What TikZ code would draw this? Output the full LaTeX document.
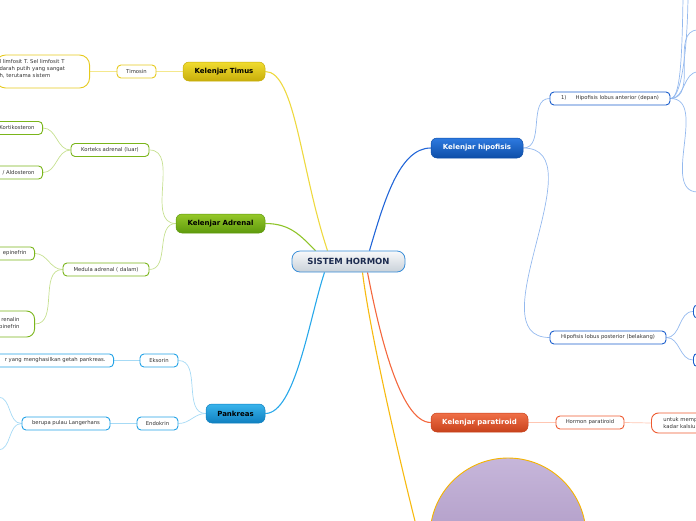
\documentclass[tikz,border=0pt]{standalone}
\usepackage{fontspec}
\setmainfont{DejaVu Sans}
\usetikzlibrary{calc,backgrounds}

\definecolor{txt}{HTML}{333333}
\definecolor{navy}{HTML}{1C2B4F}
\definecolor{sysA}{HTML}{F8F9FA}
\definecolor{sysB}{HTML}{C9D1D9}
\definecolor{sysD}{HTML}{3A8ED8}
\definecolor{timA}{HTML}{F0DC30}
\definecolor{timB}{HTML}{C8AE0A}
\definecolor{timD}{HTML}{E6CA1E}
\definecolor{timL}{HTML}{EED940}
\definecolor{timT}{HTML}{F4E88C}
\definecolor{adrA}{HTML}{96C82A}
\definecolor{adrB}{HTML}{5E9A0C}
\definecolor{adrD}{HTML}{7AB51A}
\definecolor{adrL}{HTML}{8FC42A}
\definecolor{adrT}{HTML}{C6E090}
\definecolor{panA}{HTML}{3AB4EC}
\definecolor{panB}{HTML}{0F80C0}
\definecolor{panD}{HTML}{22A2E6}
\definecolor{panL}{HTML}{28A8EA}
\definecolor{panT}{HTML}{A6DAF5}
\definecolor{hipA}{HTML}{2E7AE0}
\definecolor{hipB}{HTML}{0D4EA8}
\definecolor{hipD}{HTML}{1A5ECC}
\definecolor{hipL}{HTML}{2266D8}
\definecolor{hipT}{HTML}{94B9EE}
\definecolor{parA}{HTML}{F07048}
\definecolor{parB}{HTML}{C8421C}
\definecolor{parD}{HTML}{EE5A30}
\definecolor{parL}{HTML}{F4683E}
\definecolor{parT}{HTML}{FFC6B2}
\definecolor{purA}{HTML}{C6B6DA}
\definecolor{purB}{HTML}{A088B8}
\definecolor{purD}{HTML}{F5B400}
\definecolor{tirL}{HTML}{F7BA10}

\begin{document}
\begin{tikzpicture}[x=1pt,y=-1pt,
	main/.style={rounded corners=6pt, minimum height=19pt, inner sep=0pt, line width=0.5pt, font=\fontsize{7}{8}\selectfont\bfseries},
	sub/.style={draw, fill=white, rounded corners=4pt, line width=0.9pt, minimum height=13pt, inner xsep=8pt, inner ysep=0pt, text=txt, font=\fontsize{5.3}{7}\selectfont},
	branch/.style={line width=1.1pt},
	twig/.style={line width=0.7pt}]
	\useasboundingbox (0,0) rectangle (696,520);

	% pusat
	\node[main, minimum width=113pt, minimum height=21pt, rounded corners=8pt, top color=sysA, bottom color=sysB, draw=sysD, line width=0.8pt, text=navy, font=\fontsize{8.5}{10}\selectfont\bfseries] (sys) at (348.5,261.5) {SISTEM HORMON};

	% kelenjar
	\node[main, minimum width=82pt, top color=timA, bottom color=timB, draw=timB] (tim) at (224,71.5) {Kelenjar Timus};
	\node[main, minimum width=89pt, top color=adrA, bottom color=adrB, draw=adrB] (adr) at (220.5,223.5) {Kelenjar Adrenal};
	\node[main, minimum width=59pt, top color=panA, bottom color=panB, draw=panB] (pan) at (235.5,413.5) {Pankreas};
	\node[main, minimum width=92pt, minimum height=20pt, top color=hipA, bottom color=hipB, draw=hipB, text=white] (hip) at (477,148) {Kelenjar hipofisis};
	\node[main, minimum width=97pt, top color=parA, bottom color=parB, draw=parB, text=white] (par) at (479.5,422.5) {Kelenjar paratiroid};

	% timus
	\node[sub, draw=timD, minimum width=39pt] (timosin) at (136.5,71.5) {Timosin};
	\node[sub, draw=timD, anchor=east, align=left, text width=86pt, inner xsep=4pt, minimum height=33pt, rounded corners=10pt] (timdesc) at (90,71.5) {l limfosit T. Sel limfosit T\\darah putih yang sangat\\h, terutama sistem\\\mbox{}};

	% adrenal
	\node[sub, draw=adrD, minimum width=78pt] (kor) at (110,150) {Korteks adrenal (luar)};
	\node[sub, draw=adrD, anchor=east, text width=45pt, align=right] (kortiko) at (43,128) {Kortikosteron};
	\node[sub, draw=adrD, anchor=east, text width=45pt, align=right] (aldo) at (43,172.5) {/ Aldosteron};
	\node[sub, draw=adrD, minimum width=86pt] (med) at (106,269.5) {Medula adrenal ( dalam)};
	\node[sub, draw=adrD, anchor=east, text width=35pt, align=right] (adren) at (35,253.5) {epinefrin};
	\node[sub, draw=adrD, anchor=east, text width=30pt, align=right, inner xsep=15pt, minimum height=26pt, rounded corners=8pt] (noradr) at (35,324) {renalin\\pinefrin};

	% pankreas
	\node[sub, draw=panD, minimum width=38pt] (eks) at (159,360.5) {Eksorin};
	\node[sub, draw=panD, anchor=east, text width=120pt, align=right] (getah) at (114,360.5) {r yang menghasilkan getah pankreas.};
	\node[sub, draw=panD, minimum width=41pt] (endo) at (157.5,423.5) {Endokrin};
	\node[sub, draw=panD, minimum width=88pt] (pulau) at (66,423.5) {berupa pulau Langerhans};
	\coordinate (pl1) at (-2,397);
	\coordinate (pl2) at (-2,450);

	% hipofisis
	\node[sub, draw=hipD, minimum width=120pt] (ant) at (610,98.5) {1)\hspace{9pt}Hipofisis lobus anterior (depan)};
	\node[sub, draw=hipD, minimum width=116pt] (post) at (608,337.5) {Hipofisis lobus posterior (belakang)};
	\node[sub, draw=hipD, anchor=west, minimum width=30pt] (post1) at (693,311.5) {};
	\node[sub, draw=hipD, anchor=west, minimum width=30pt] (post2) at (693,360) {};
	\coordinate (an1) at (683,-2);
	\coordinate (an2) at (688,-2);
	\coordinate (an3) at (698,30);
	\coordinate (an4) at (698,72);
	\coordinate (an5) at (698,192);

	% paratiroid
	\node[sub, draw=parD, minimum width=68pt] (hpar) at (590,422.5) {Hormon paratiroid};
	\node[sub, draw=parD, anchor=west, text width=60pt, align=left, inner xsep=12pt, minimum height=20pt, rounded corners=7pt] (untuk) at (651,423) {untuk memp\\kadar kalsiu};

	% gambar
	\node[circle, minimum size=156pt, inner sep=0pt, top color=purA, bottom color=purB, draw=purD, line width=0.9pt] (gambar) at (508,536) {};
	\coordinate (tirend) at (416,525);

	\begin{scope}[on background layer]
		\draw[timL, branch] (tim.east) .. controls +(30,0) and +(-27,-81) .. ($(sys.north)+(-21,0)$);
		\draw[adrL, branch] (adr.east) .. controls +(25,0) and +(-15,-15) .. ($(sys.north)+(-33,0)$);
		\draw[panL, branch] (pan.east) .. controls +(30,0) and +(-15,45) .. ($(sys.south)+(-24,0)$);
		\draw[hipL, branch] ($(sys.north)+(21,0)$) .. controls +(15,-51) and +(-31,0) .. (hip.west);
		\draw[parL, branch] ($(sys.south)+(19,0)$) .. controls +(11,57) and +(-31,0) .. (par.west);
		\draw[tirL, branch] ($(sys.south)+(14,0)$) .. controls +(7,57) and +(-19,-75) .. (tirend);

		\draw[timT, twig] (tim.west) -- (timosin.east);
		\draw[timT, twig] (timosin.west) -- (timdesc.east);

		\foreach \c in {kor,med} \draw[adrT, twig] (adr.west) to[out=180,in=0] (\c.east);
		\foreach \c in {kortiko,aldo} \draw[adrT, twig] (kor.west) to[out=180,in=0] (\c.east);
		\foreach \c in {adren,noradr} \draw[adrT, twig] (med.west) to[out=180,in=0] (\c.east);

		\foreach \c in {eks,endo} \draw[panT, twig] (pan.west) to[out=180,in=0] (\c.east);
		\draw[panT, twig] (eks.west) -- (getah.east);
		\draw[panT, twig] (endo.west) -- (pulau.east);
		\foreach \c in {pl1,pl2} \draw[panT, twig] (pulau.west) to[out=180,in=0] (\c);

		\foreach \c in {ant,post} \draw[hipT, twig] (hip.east) to[out=0,in=180] (\c.west);
		\foreach \c in {an1,an2} \draw[hipT, twig] (ant.east) .. controls +(10,0) and +(-1,60) .. (\c);
		\foreach \c in {an3,an4,an5} \draw[hipT, twig] (ant.east) to[out=0,in=180] (\c);
		\foreach \c in {post1,post2} \draw[hipT, twig] (post.east) to[out=0,in=180] (\c.west);

		\draw[parT, twig] (par.east) -- (hpar.west);
		\draw[parT, twig] (hpar.east) -- (untuk.west);
	\end{scope}
\end{tikzpicture}
\end{document}
